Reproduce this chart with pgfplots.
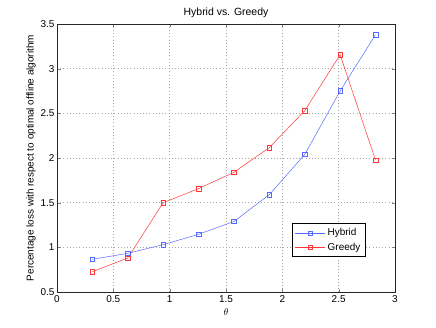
\documentclass[border=0pt]{standalone}
\usepackage{pgfplots}
\pgfplotsset{compat=1.18}
\usepackage{fontspec}
\setmainfont{Liberation Sans}

\definecolor{hyb}{RGB}{85,105,255}
\definecolor{gre}{RGB}{255,55,55}

\begin{document}
\begin{tikzpicture}
\useasboundingbox (0,0) rectangle (436bp,328bp);
\begin{axis}[
  at={(57bp,36bp)}, anchor=south west,
  scale only axis, width=338bp, height=268bp,
  xmin=0, xmax=3, ymin=0.5, ymax=3.5,
  xtick={0,0.5,...,3}, ytick={0.5,1,...,3.5},
  tick align=inside, tick pos=both,
  major tick length=3.5bp,
  grid=major,
  grid style={dash pattern=on 0.6pt off 2.6pt, gray!70, line width=0.5pt},
  axis line style={line width=0.5pt, black!85},
  font=\fontsize{10}{12}\selectfont,
  /pgf/number format/assume math mode=true,
  ticklabel style={font=\fontsize{10}{12}\selectfont},
  xticklabel style={yshift=-0.5bp},
  yticklabel style={xshift=1bp},
  title={Hybrid vs. Greedy},
  title style={font=\fontsize{10.5}{12}\selectfont, yshift=-3bp},
  xlabel={$\theta$},
  xlabel style={yshift=1bp},
  ylabel={Percentage loss with respect to optimal offline algorithm},
  ylabel style={font=\fontsize{10}{12}\selectfont, yshift=-2bp},
  legend style={at={(0.695,0.131)}, anchor=south west,
    font=\fontsize{10}{12}\selectfont, draw=black, line width=0.6pt,
    inner sep=3pt, row sep=1.5pt},
  legend cell align=left,
  legend image code/.code={%
    \draw[mark repeat=2,mark phase=2] plot coordinates {(0bp,0bp)(15bp,0bp)(30bp,0bp)};},
  every axis plot/.append style={line width=0.5pt},
]
\addplot[hyb, mark=square, mark size=2.3pt, mark options={solid}] coordinates {
(0.314,0.866)(0.628,0.933)(0.942,1.03)(1.257,1.146)(1.571,1.29)
(1.885,1.59)(2.199,2.04)(2.513,2.75)(2.827,3.38)
};
\addlegendentry{Hybrid}
\addplot[gre, mark=square, mark size=2.3pt, mark options={solid}] coordinates {
(0.314,0.728)(0.628,0.88)(0.942,1.50)(1.257,1.658)(1.571,1.84)
(1.885,2.117)(2.199,2.53)(2.513,3.156)(2.827,1.976)
};
\addlegendentry{Greedy}
\end{axis}
\end{tikzpicture}
\end{document}
